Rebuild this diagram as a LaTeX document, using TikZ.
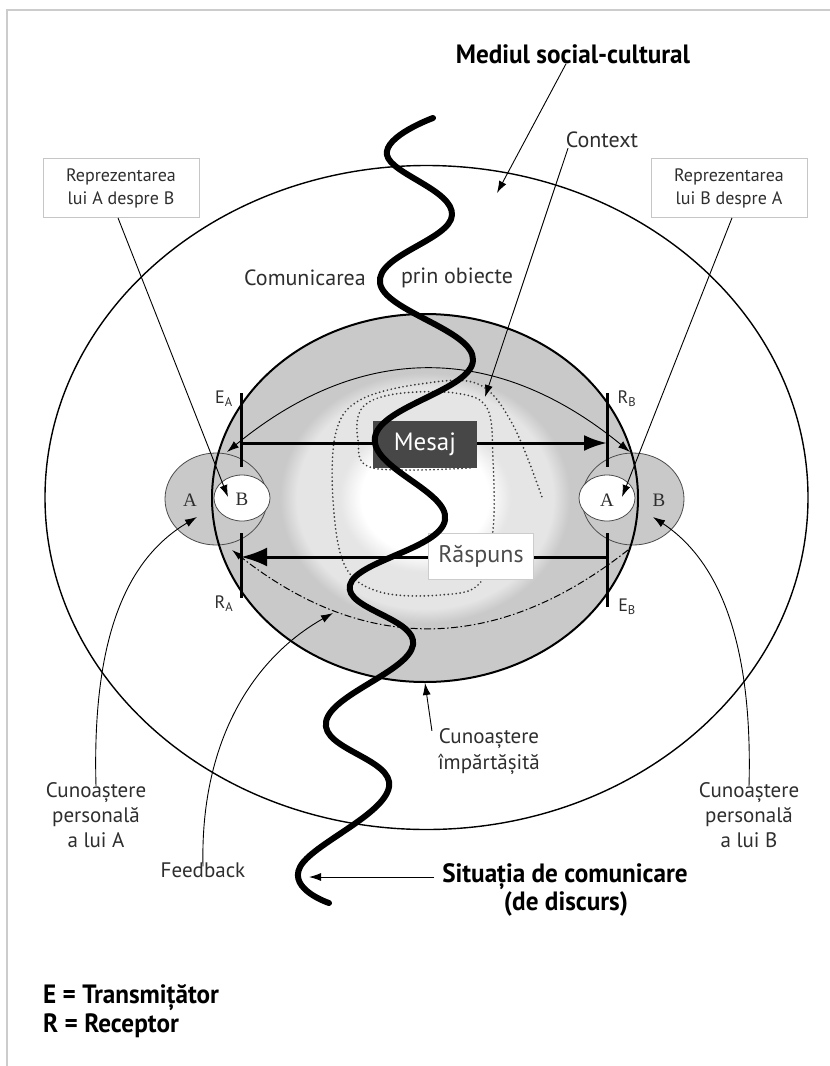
\documentclass[tikz,border=0pt]{standalone}
\usepackage{fontspec}
\setmainfont{PT Sans}
\newfontfamily\headfont{PT Sans}[FakeStretch=0.95]
\newfontfamily\letterfont{Liberation Serif}
\usetikzlibrary{arrows.meta,calc}

\definecolor{sharedgray}{gray}{0.79}
\definecolor{ringgray}{gray}{0.90}
\definecolor{inkgray}{gray}{0.18}

% soft white core inside the shared-knowledge ellipse
\pgfdeclareradialshading{commonground}{\pgfpointorigin}{%
  color(0bp)=(white); color(7.5bp)=(white); color(10bp)=(ringgray);
  color(15bp)=(ringgray); color(17bp)=(sharedgray); color(50bp)=(sharedgray)}

\begin{document}
\begin{tikzpicture}[x=1pt,y=-1pt,
  lbl/.style={font=\fontsize{22}{25}\selectfont, text=inkgray, inner sep=0pt, align=center},
  boxlbl/.style={font=\fontsize{18}{23}\selectfont, text=inkgray, align=center,
    draw=gray!45, line width=0.8pt, fill=white, minimum width=156pt,
    minimum height=59pt, inner sep=0pt},
  headlbl/.style={font=\headfont\bfseries\fontsize{26.5}{29}\selectfont, inner sep=0pt},
  sublbl/.style={font=\fontsize{18}{20}\selectfont, text=inkgray, inner sep=0pt},
  circlbl/.style={font=\letterfont\fontsize{19}{21}\selectfont, text=inkgray, inner sep=0pt},
  leaderline/.style={line width=0.9pt},
  pointer/.style={leaderline, -{Latex[length=12pt,width=8pt]}},
  barline/.style={line width=3pt},
  flow/.style={line width=3pt},
  wavy/.style={line width=6pt, line cap=round, line join=round},
  spiral/.style={line width=1.9pt, gray!45!black, line cap=round, dash pattern=on 0pt off 4pt},
  feedbackarc/.style={line width=1pt, dash pattern=on 7pt off 2.5pt on 1.5pt off 2.5pt},
  person/.style={fill=sharedgray, draw=black!70, line width=0.8pt},
  image/.style={fill=white, draw=black!70, line width=0.8pt}
]
\useasboundingbox (0,0) rectangle (830,1066);
\fill[white] (0,0) rectangle (830,1066);

% page frame
\draw[gray!40, line width=1.8pt] (7,1066) -- (7,10) -- (830,10);

% socio-cultural environment
\draw[line width=1.4pt] (426.5,497.5) ellipse [x radius=381.5, y radius=332];

% shared knowledge
\shade[shading=commonground] (425,498) ellipse [x radius=213, y radius=184];

% personal knowledge of A and B, with each one's image of the other
\draw[person] (216,499) ellipse [x radius=51, y radius=46];
\draw[person] (633,499) ellipse [x radius=51, y radius=46];
\draw[image] (242,498) ellipse [x radius=28, y radius=23];
\draw[image] (607,498) ellipse [x radius=28, y radius=23];
\draw[line width=2pt] (425,498) ellipse [x radius=213, y radius=184];

\node[circlbl] (pA) at (190,500) {A};
\node[circlbl] (iB) at (242,499) {B};
\node[circlbl] (iA) at (607,500) {A};
\node[circlbl] (pB) at (659,500) {B};

% context spiral
\draw[spiral] plot[smooth, tension=0.6] coordinates {
  (470,468) (373,468) (358,440) (362,408) (395,394) (455,393) (487,408)
  (493,460) (493,530) (480,583) (440,595) (380,592) (345,566) (333,500)
  (336,432) (360,400) (420,384) (478,384) (513,425) (543,500)};

% feedback
\coordinate (fbR) at (628,550);
\coordinate (fbL) at (232,550);
\draw[feedbackarc, -{Latex[length=11pt,width=7pt]}] (fbR) .. controls (496,654) and (364,654) .. (fbL);

% context boundary
\coordinate (cxL) at (227,452);
\coordinate (cxR) at (630,452);
\draw[leaderline, {Latex[length=12pt,width=8pt]}-{Latex[length=12pt,width=8pt]}]
  (cxL) .. controls (361,342) and (496,342) .. (cxR);

% transmitter / receptor bars
\coordinate (EAt) at (241,393); \coordinate (EAb) at (241,467);
\coordinate (RAt) at (241,533); \coordinate (RAb) at (241,598);
\coordinate (RBt) at (607,393); \coordinate (RBb) at (607,467);
\coordinate (EBt) at (607,533); \coordinate (EBb) at (607,607);
\draw[barline] (EAt) -- (EAb);
\draw[barline] (RAt) -- (RAb);
\draw[barline] (RBt) -- (RBb);
\draw[barline] (EBt) -- (EBb);
\node[sublbl] (lEA) at (224,399) {E\textsubscript{A}};
\node[sublbl] (lRA) at (224,604) {R\textsubscript{A}};
\node[sublbl] (lRB) at (627,399) {R\textsubscript{B}};
\node[sublbl] (lEB) at (627,607) {E\textsubscript{B}};

% message and response
\coordinate (mL) at (241,443); \coordinate (mR) at (607,443);
\coordinate (rL) at (241,557); \coordinate (rR) at (607,557);
\draw[flow, -{Latex[length=23pt,width=16pt]}] (mL) -- (mR);
\draw[flow, -{Latex[length=26pt,width=19pt]}] (rR) -- (rL);
\node[fill=black!72, text=white, font=\fontsize{25}{28}\selectfont,
  minimum width=104pt, minimum height=47pt, inner sep=0pt] (mesaj) at (425,444) {Mesaj};
\node[fill=white, draw=gray!40, line width=0.8pt, text=black!70,
  font=\fontsize{24}{27}\selectfont, minimum width=105pt, minimum height=46pt,
  inner sep=0pt] (raspuns) at (481,556) {Răspuns};

% communication through objects
\draw[wavy] plot[smooth, tension=0.7] coordinates {
  (433,118) (387,155) (452,215) (380,283) (473,360) (375,437) (445,520)
  (350,585) (413,645) (326,722) (389,787) (300,867) (329,903)};

% labels and leaders
\node[headlbl] (social) at (573,54) {Mediul social-cultural};
\coordinate (socTip) at (497,193);
\draw[pointer] ([xshift=-7pt]social.south) -- (socTip);

\node[lbl] (context) at (602,140) {Context};
\coordinate (ctxTip) at (485,397);
\draw[pointer] ([xshift=-34pt]context.south) -- (ctxTip);

\node[boxlbl] (repA) at (121,188) {Reprezentarea\\lui A despre B};
\node[boxlbl] (repB) at (729,188) {Reprezentarea\\lui B despre A};
\coordinate (imgBTip) at (228,497);
\coordinate (imgATip) at (622,497);
\draw[pointer] ([xshift=-3pt]repA.south) -- (imgBTip);
\draw[pointer] ([xshift=3pt]repB.south) -- (imgATip);

\node[lbl] (comL) at (305,278) {Comunicarea};
\node[lbl] (comR) at (457,278) {prin obiecte};

\node[lbl, font=\fontsize{21}{25}\selectfont] (knowA) at (96,815) {Cunoaștere\\personală\\a lui A};
\node[lbl, font=\fontsize{21}{25}\selectfont] (knowB) at (749,815) {Cunoaștere\\personală\\a lui B};
\coordinate (knowATip) at (197,517);
\coordinate (knowBTip) at (653,517);
\draw[pointer] ([yshift=-4pt]knowA.north) .. controls (92,640) and (125,560) .. (knowATip);
\draw[pointer] ([yshift=-4pt]knowB.north) .. controls (753,640) and (718,560) .. (knowBTip);

\node[lbl, font=\fontsize{21}{25}\selectfont] (feedback) at (203,870) {Feedback};
\coordinate (fbTip) at (333,613);
\draw[pointer] ([yshift=-4pt]feedback.north) .. controls (200,745) and (250,660) .. (fbTip);

\node[lbl, font=\fontsize{21}{26}\selectfont] (shared) at (489,752) {Cunoaștere\\împărtășită};
\coordinate (sharedTip) at (425,683);
\draw[pointer] ([xshift=-6pt,yshift=-2pt]shared.north west) -- (sharedTip);

\node[headlbl] (sit1) at (565,877) {Situația de comunicare};
\node[headlbl] (sit2) at (566,904) {(de discurs)};
\coordinate (waveTip) at (309,877);
\draw[pointer] ([xshift=-8pt]sit1.west) -- (waveTip);

% legend
\node[headlbl, anchor=west] (legE) at (43,998) {E = Transmițător};
\node[headlbl, anchor=west] (legR) at (43,1026) {R = Receptor};
\end{tikzpicture}
\end{document}
